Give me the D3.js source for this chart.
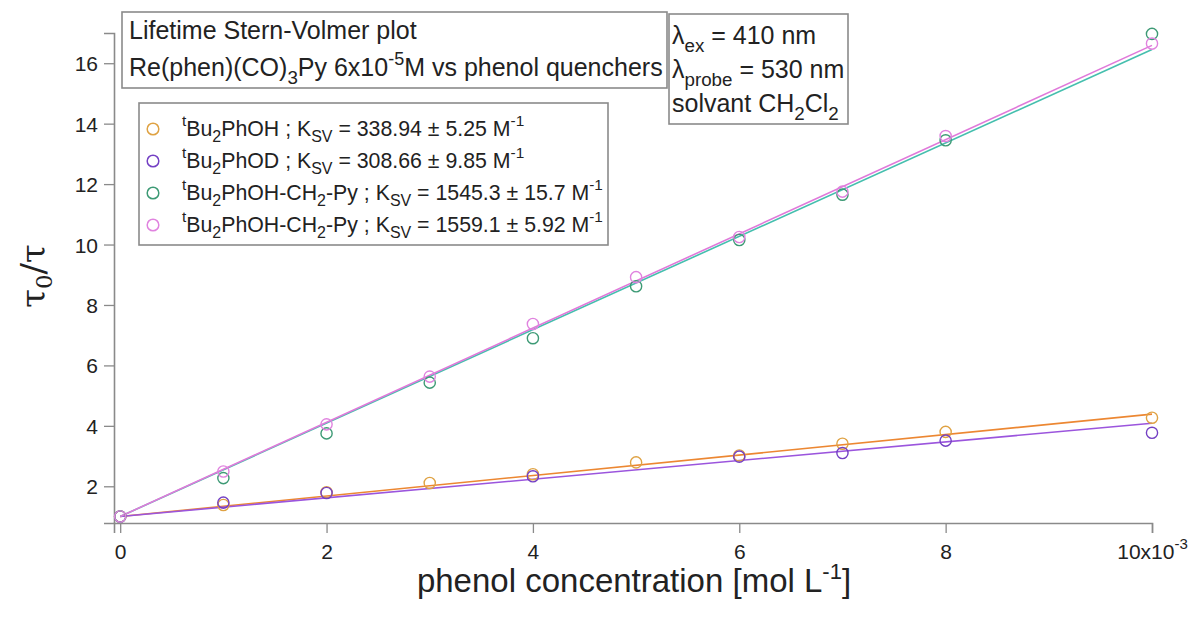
<!DOCTYPE html>
<html>
<head>
<meta charset="utf-8">
<script src="https://cdn.jsdelivr.net/npm/d3@7/dist/d3.min.js"></script>
<style>
  html, body { margin: 0; padding: 0; background: #fff; }
  svg { display: block; font-family: "Liberation Sans", Arial, sans-serif; }
</style>
</head>
<body>
<svg id="chart" width="1196" height="621"></svg>
<script>
// Quencher concentrations (mmol/L) at which lifetimes were measured
const concMM = [0, 1, 2, 3, 4, 5, 6, 7, 8, 10];

// tau0/tau ratios per quencher (null = not measured)
const ratioBu2PhOH = [1.00, 1.38, 1.80, 2.11, 2.40, 2.79, 3.02, 3.41, 3.80, 4.27];
const ratioBu2PhOD = [1.00, 1.46, 1.78, null, 2.33, null, 2.98, 3.10, 3.51, 3.77];
const ratioPyA     = [1.00, 2.27, 3.75, 5.43, 6.90, 8.62, 10.15, 11.65, 13.45, 16.97];
const ratioPyB     = [1.00, 2.49, 4.05, 5.63, 7.37, 8.92, 10.25, 11.75, 13.59, 16.65];

// Stern-Volmer constants (M^-1) and their errors
const ksv    = [338.94, 308.66, 1545.3, 1559.1];
const ksvTxt = ["338.94", "308.66", "1545.3", "1559.1"];
const ksvErr = ["5.25", "9.85", "15.7", "5.92"];
const quencherNames = ["PhOH", "PhOD", "PhOH-CH", "PhOH-CH"];

// Axis ticks
const xTicksMM = [0, 2, 4, 6, 8, 10];
const yTicks   = [2, 4, 6, 8, 10, 12, 14, 16];

const markerColors = ["#dfa243", "#7440c4", "#3d9a75", "#e083df"];
const lineColors   = ["#ec8732", "#9b55dd", "#45bfae", "#e079da"];

const svg = d3.select("#chart");

const x = d3.scaleLinear().domain([-0.06e-3, 10e-3]).range([114, 1152]);
const y = d3.scaleLinear().domain([0.785, 17.0]).range([523, 33]);

const axisColor = "#8a8a8a";
const textColor = "#222";
const tickFont = 21;

// Axes
const xAxis = d3.axisBottom(x)
  .tickValues(xTicksMM.map(v => v / 1000))
  .tickSize(10)
  .tickFormat(() => "");
const gx = svg.append("g").attr("transform", `translate(0,${y.range()[0]})`).call(xAxis);

const yAxis = d3.axisLeft(y).tickValues(yTicks).tickSize(10).tickPadding(6).tickFormat(d3.format("d"));
const gy = svg.append("g").attr("transform", `translate(${x.range()[0]},0)`).call(yAxis);

[gx, gy].forEach(g => {
  g.select(".domain").attr("stroke", axisColor).attr("stroke-width", 1.6);
  g.selectAll(".tick line").attr("stroke", axisColor).attr("stroke-width", 1.3);
  g.selectAll(".tick text").attr("fill", textColor).style("font-size", tickFont + "px")
    .style("font-family", "'Liberation Sans', Arial, sans-serif");
});
gy.selectAll(".tick text").attr("dy", "0.36em");

// X tick labels (last one carries the scale factor)
gx.selectAll(".tick").each(function(d, i) {
  const t = d3.select(this).select("text").attr("dy", "0").attr("y", 36);
  const mm = xTicksMM[i];
  if (mm === 10) {
    t.append("tspan").text("10x10");
    t.append("tspan").attr("dy", -10).style("font-size", "15px").text("-3");
  } else {
    t.text(mm);
  }
});

// Fit lines: tau0/tau = 1 + Ksv [Q]
const seriesRatios = [ratioBu2PhOH, ratioBu2PhOD, ratioPyA, ratioPyB];
const line = d3.line().x(d => x(d[0])).y(d => y(d[1]));
ksv.forEach((k, i) => {
  const pts = [0, 10e-3].map(c => [c, 1 + k * c]);
  svg.append("path").datum(pts).attr("d", line)
    .attr("fill", "none").attr("stroke", lineColors[i]).attr("stroke-width", 1.6);
});

// Measured points
seriesRatios.forEach((vals, i) => {
  const pts = concMM.map((c, j) => ({ c: c / 1000, v: vals[j] })).filter(p => p.v !== null);
  svg.append("g").selectAll("circle").data(pts).join("circle")
    .attr("cx", p => x(p.c)).attr("cy", p => y(p.v)).attr("r", 5.6)
    .attr("fill", "none").attr("stroke", markerColors[i]).attr("stroke-width", 1.4);
});

// Rich text helper: segments of [text, "sub"|"sup"|undefined]
function richText(parent, px, py, segs, size) {
  const t = parent.append("text").attr("x", px).attr("y", py)
    .attr("fill", textColor).style("font-size", size + "px");
  let shift = 0;
  segs.forEach(([s, mode]) => {
    let target = 0, fs = size;
    if (mode === "sub") { target = size * 0.3; fs = size * 0.75; }
    if (mode === "sup") { target = -size * 0.45; fs = size * 0.72; }
    t.append("tspan").attr("dy", target - shift).style("font-size", fs + "px").text(s);
    shift = target;
  });
  return t;
}

function box(x0, y0, w, h) {
  svg.append("rect").attr("x", x0).attr("y", y0).attr("width", w).attr("height", h)
    .attr("fill", "#fff").attr("stroke", axisColor).attr("stroke-width", 1.6);
}

// Title box
box(122, 12, 545, 76);
richText(svg, 129, 39, [["Lifetime Stern-Volmer plot"]], 25);
richText(svg, 129, 76, [["Re(phen)(CO)"], ["3", "sub"], ["Py 6x10"], ["-5", "sup"], ["M vs phenol quenchers"]], 25);

// Conditions box
box(669, 14, 179, 110);
richText(svg, 672, 44, [["λ"], ["ex", "sub"], [" = 410 nm"]], 25);
richText(svg, 672, 78, [["λ"], ["probe", "sub"], [" = 530 nm"]], 25);
richText(svg, 672, 112, [["solvant CH"], ["2", "sub"], ["Cl"], ["2", "sub"]], 25);

// Legend
box(139, 103, 469, 142);
ksv.forEach((k, i) => {
  const cy = 129 + i * 32;
  svg.append("circle").attr("cx", 153).attr("cy", cy).attr("r", 5.8)
    .attr("fill", "none").attr("stroke", markerColors[i]).attr("stroke-width", 1.5);
  const segs = [["t", "sup"], ["Bu"], ["2", "sub"], [quencherNames[i]]];
  if (i >= 2) segs.push(["2", "sub"], ["-Py"]);
  segs.push([" ; K"], ["SV", "sub"], [` = ${ksvTxt[i]} ± ${ksvErr[i]} M`], ["-1", "sup"]);
  richText(svg, 182, cy + 7, segs, 21.3);
});

// Axis titles
const xl = svg.append("text").attr("x", 634).attr("y", 592).attr("text-anchor", "middle")
  .attr("fill", textColor).style("font-size", "33px");
xl.append("tspan").text("phenol concentration [mol L");
xl.append("tspan").attr("dy", -13).style("font-size", "22px").text("-1");
xl.append("tspan").attr("dy", 13).text("]");

const yl = svg.append("text").attr("transform", "translate(45,276) rotate(-90)")
  .attr("text-anchor", "middle").attr("fill", textColor)
  .style("font-size", "34px").style("font-family", "'DejaVu Serif', 'Liberation Serif', serif");
yl.append("tspan").text("τ");
yl.append("tspan").attr("dy", 7).style("font-size", "23px").text("0");
yl.append("tspan").attr("dy", -7).text("/τ");
</script>
</body>
</html>
